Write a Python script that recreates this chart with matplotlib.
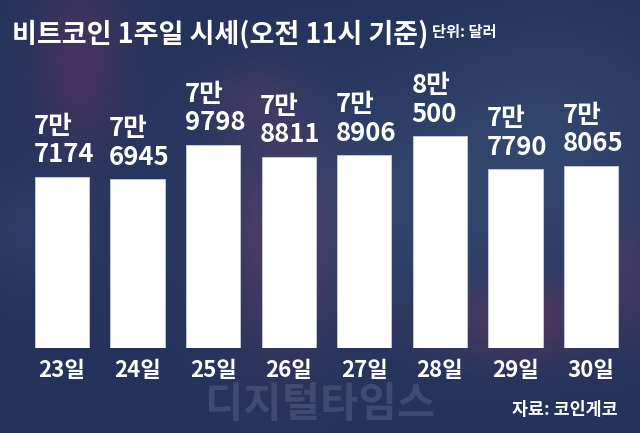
import numpy as np
import matplotlib
matplotlib.use("Agg")
import matplotlib.pyplot as plt

plt.rcParams['font.family'] = ['Noto Sans CJK KR', 'DejaVu Sans']

days = ["23일", "24일", "25일", "26일", "27일", "28일", "29일", "30일"]
prices = [77174, 76945, 79798, 78811, 78906, 80500, 77790, 78065]
title = "비트코인 1주일 시세(오전 11시 기준)"
unit = "단위: 달러"
source = "자료: 코인게코"
watermark = "디지털타임스"


def fmt(v):
    man = v // 10000
    rest = v % 10000
    return f"{man}만\n{rest}"


W, H = 640, 433
fig = plt.figure(figsize=(W / 100, H / 100), dpi=100)

# decorative background
bg = fig.add_axes([0, 0, 1, 1], zorder=0)
yy, xx = np.mgrid[0:H, 0:W]
base = np.array([0.145, 0.20, 0.36])
img = np.ones((H, W, 3)) * base


def blob(cx, cy, sx, sy, col, strength):
    g = np.exp(-(((xx - cx) / sx) ** 2 + ((yy - cy) / sy) ** 2))
    return g[..., None] * (np.array(col) - base) * strength


img += blob(420, 200, 220, 120, [0.20, 0.28, 0.44], 0.8)
img += blob(560, 120, 120, 100, [0.20, 0.27, 0.42], 0.6)
img += blob(80, 60, 45, 90, [0.32, 0.20, 0.36], 0.7)
img += blob(280, 240, 55, 110, [0.32, 0.20, 0.36], 0.8)
img += blob(250, 100, 50, 35, [0.30, 0.22, 0.38], 0.5)
img += blob(520, 320, 80, 40, [0.32, 0.20, 0.36], 0.8)
img += blob(620, 270, 40, 60, [0.30, 0.21, 0.37], 0.6)
img += blob(30, 230, 60, 60, [0.18, 0.26, 0.42], 0.6)
img = np.clip(img, 0, 1)
bg.imshow(img, extent=[0, W, H, 0], aspect='auto')
bg.set_xlim(0, W)
bg.set_ylim(H, 0)
bg.axis('off')

ax = fig.add_axes([24.2 / W, 1 - 348 / H, (628.8 - 24.2) / W, 248 / H], zorder=1)
ax.patch.set_alpha(0)
x = np.arange(len(days))
bw = 0.72
ax.bar(x, prices, width=bw, color='white', edgecolor='#c8cce0', linewidth=0.6)
ax.set_xlim(-0.5, len(days) - 0.5)
ax.set_ylim(63100, 83461)
for s in ax.spines.values():
    s.set_visible(False)
ax.set_yticks([])
ax.set_xticks(x)
ax.set_xticklabels(days, color='white', fontsize=16, fontweight='bold')
ax.tick_params(axis='x', length=0, pad=8)

for xi, v in zip(x, prices):
    ax.annotate(fmt(v), (xi - bw / 2, v), xytext=(-1, 6), textcoords='offset points',
                ha='left', va='bottom', multialignment='left', color='white',
                fontsize=18.5, fontweight='bold', linespacing=1.08)

fig.text(12 / W, 1 - 34 / H, title, color='white', fontsize=19.5, fontweight='bold',
         ha='left', va='center', zorder=3)
fig.text(432 / W, 1 - 32 / H, unit, color='white', fontsize=11, fontweight='bold',
         ha='left', va='center', zorder=3)
fig.text(618 / W, 1 - 410 / H, source, color='white', fontsize=12.5, fontweight='bold',
         ha='right', va='center', zorder=3)
fig.text(320 / W, 1 - 405 / H, watermark, color='#9aa0b8', alpha=0.22, fontsize=30,
         fontweight='bold', ha='center', va='center', zorder=2)

fig.savefig("out.png", dpi=100)
